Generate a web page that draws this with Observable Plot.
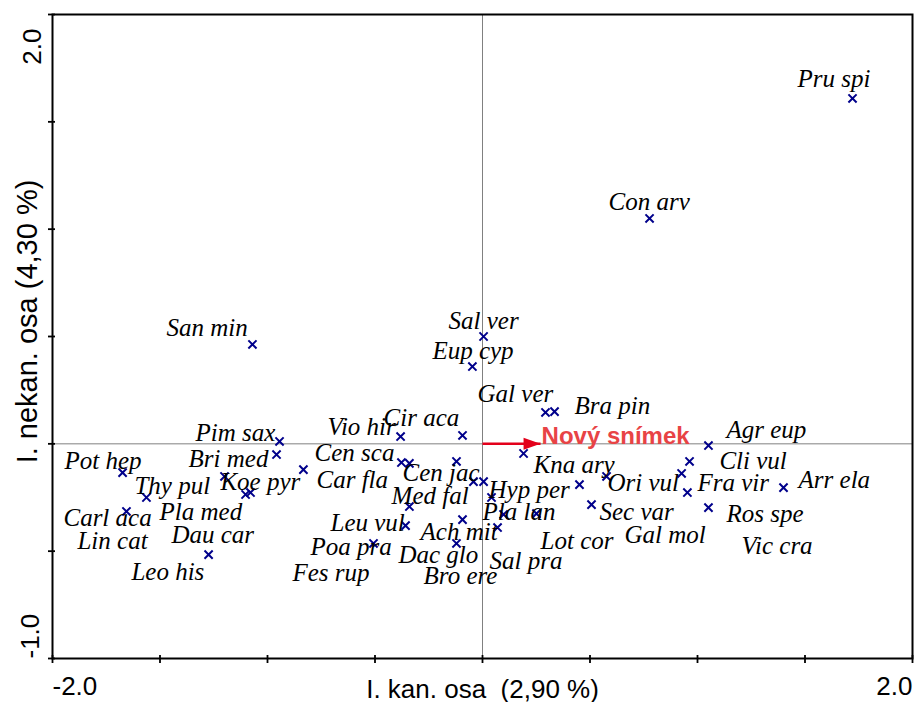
<!DOCTYPE html>
<html>
<head>
<meta charset="utf-8">
<script src="https://cdn.jsdelivr.net/npm/d3@7"></script>
<script src="https://cdn.jsdelivr.net/npm/@observablehq/plot@0.6"></script>
<style>
html, body { margin: 0; padding: 0; background: #fff; overflow: hidden; }
</style>
</head>
<body>
<div id="chart"></div>
<script>
// ---- data ----
const species = ["Pru spi","Con arv","San min","Sal ver","Eup cyp","Gal ver","Bra pin","Cir aca","Vio hir","Pim sax",
  "Bri med","Pot hep","Thy pul","Carl aca","Pla med","Koe pyr","Lin cat","Car fla","Dau car","Cen sca",
  "Fes rup","Cen jac","Leo his","Bro ere","Med fal","Leu vul","Poa pra","Ach mit","Dac glo","Hyp per",
  "Pla lan","Sal pra","Lot cor","Kna ary","Sec var","Gal mol","Ori vul","Agr eup","Cli vul","Vic cra",
  "Fra vir","Ros spe","Arr ela"];
const spX = [1.721,0.777,-1.070,0.005,-0.047,0.293,0.335,-0.093,-0.381,-0.944,
  -0.958,-1.674,-1.563,-1.656,-1.200,-1.102,-1.079,-0.833,-1.274,-0.377,
  -0.340,-0.121,-0.042,0.005,-0.340,-0.358,-0.507,-0.093,-0.121,0.042,
  0.098,0.070,0.251,0.191,0.451,0.507,0.577,1.051,0.963,0.926,
  0.953,1.051,1.400];
const spY = [1.609,1.050,0.463,0.500,0.360,0.146,0.150,0.039,0.034,0.011,
  -0.050,-0.134,-0.250,-0.315,-0.152,-0.236,-0.227,-0.120,-0.516,-0.087,
  -0.091,-0.082,-0.176,-0.176,-0.292,-0.381,-0.464,-0.353,-0.464,-0.250,
  -0.329,-0.390,-0.325,-0.045,-0.190,-0.283,-0.152,-0.008,-0.082,-0.138,
  -0.227,-0.297,-0.204];
// label anchor (left end of the text baseline), in axis units
const labelX = [1.465,0.586,-1.470,-0.158,-0.233,-0.023,0.428,-0.460,-0.721,-1.335,
  -1.367,-1.944,-1.619,-1.949,-1.502,-1.219,-1.884,-0.772,-1.447,-0.781,
  -0.884,-0.372,-1.633,-0.274,-0.423,-0.707,-0.800,-0.288,-0.391,0.028,
  0.000,0.033,0.270,0.237,0.544,0.660,0.581,1.135,1.102,1.205,
  1.000,1.135,1.470];
const labelY = [1.660,1.091,0.504,0.537,0.397,0.197,0.141,0.081,0.039,0.011,
  -0.110,-0.115,-0.236,-0.385,-0.353,-0.213,-0.492,-0.208,-0.464,-0.078,
  -0.637,-0.171,-0.632,-0.651,-0.278,-0.404,-0.520,-0.446,-0.553,-0.250,
  -0.357,-0.581,-0.488,-0.134,-0.353,-0.464,-0.218,0.029,-0.115,-0.511,
  -0.218,-0.362,-0.204];

const arrowName = ["Nový snímek"];
const arrowX = [0.27];
const arrowY = [0];

const xTicks = [-2, -1.5, -1, -0.5, 0, 0.5, 1, 1.5, 2];
const yTicks = [-1, -0.5, 0, 0.5, 1, 1.5, 2];
const xTickLabels = [-2, 2];
const yTickLabels = [-1, 2];
const xTitle = "I. kan. osa \u00a0(2,90 %)";
const yTitle = "I. nekan. osa (4,30 %)";

// ---- tables built from the arrays ----
const points = species.map((s, i) => ({name: s, x: spX[i], y: spY[i], lx: labelX[i], ly: labelY[i]}));
const arrows = arrowName.map((n, i) => ({name: n, x: arrowX[i], y: arrowY[i]}));

// filled arrow head, tip at the origin, pointing right
const headSymbol = {
  draw(ctx) {
    ctx.moveTo(0, 0);
    ctx.lineTo(-17, -6);
    ctx.lineTo(-17, 6);
    ctx.closePath();
  }
};

const sansFont = "'Liberation Sans', Arial, sans-serif";
const serifFont = "'Liberation Serif', 'Times New Roman', serif";

const chart = Plot.plot({
  width: 914,
  height: 702,
  marginLeft: 52,
  marginRight: 2,
  marginTop: 14,
  marginBottom: 44,
  x: {domain: [-2, 2], axis: null},
  y: {domain: [-1, 2], axis: null},
  style: {background: "#fff", overflow: "visible"},
  marks: [
    Plot.ruleX([0], {stroke: "#808080", strokeWidth: 1}),
    Plot.ruleY([0], {stroke: "#808080", strokeWidth: 1}),
    Plot.frame({stroke: "#000", strokeWidth: 2}),
    Plot.axisX({ticks: xTicks, tickSize: 8, dy: -3, tickFormat: () => "", label: null, stroke: "#000", strokeWidth: 1.8}),
    Plot.axisY({ticks: yTicks, tickSize: 7, dx: 3, tickFormat: () => "", label: null, stroke: "#000", strokeWidth: 1.8}),
    // tick labels
    Plot.text(xTickLabels.slice(0, 1), {x: d => d, frameAnchor: "bottom", dy: 28, text: d => d.toFixed(1),
      textAnchor: "start", lineAnchor: "middle", fontSize: 26, fontFamily: sansFont, fill: "#000"}),
    Plot.text(xTickLabels.slice(1), {x: d => d, frameAnchor: "bottom", dy: 28, text: d => d.toFixed(1),
      textAnchor: "end", lineAnchor: "middle", fontSize: 26, fontFamily: sansFont, fill: "#000"}),
    Plot.text(yTickLabels.slice(0, 1), {y: d => d, frameAnchor: "left", dx: -22, text: d => d.toFixed(1),
      rotate: -90, textAnchor: "start", lineAnchor: "middle", fontSize: 26, fontFamily: sansFont, fill: "#000"}),
    Plot.text(yTickLabels.slice(1), {y: d => d, frameAnchor: "left", dx: -20, dy: 14, text: d => d.toFixed(1),
      rotate: -90, textAnchor: "end", lineAnchor: "middle", fontSize: 26, fontFamily: sansFont, fill: "#000"}),
    // axis titles
    Plot.text([xTitle], {frameAnchor: "bottom", dy: 31, text: d => d, textAnchor: "middle", lineAnchor: "middle",
      fontSize: 26, fontFamily: sansFont, fill: "#000"}),
    Plot.text([yTitle], {frameAnchor: "left", dx: -25, dy: -15, text: d => d, rotate: -90, textAnchor: "middle",
      lineAnchor: "middle", fontSize: 29, fontFamily: sansFont, fill: "#000"}),
    // species points
    Plot.dot(points, {x: "x", y: "y", symbol: "times", r: 3.8, stroke: "#00008b", strokeWidth: 2}),
    // species labels
    Plot.text(points, {x: "lx", y: "ly", text: "name", textAnchor: "start", lineAnchor: "bottom",
      fontSize: 25, fontFamily: serifFont, fontStyle: "italic", fill: "#000"}),
    // supplementary arrow
    Plot.link(arrows, {x1: 0, y1: 0, x2: "x", y2: "y", stroke: "#e3001b", strokeWidth: 2.5}),
    Plot.dot(arrows, {x: "x", y: "y", symbol: headSymbol, r: 5, fill: "#e3001b", stroke: "none"}),
    Plot.text(arrows, {x: "x", y: "y", text: "name", dx: 1, textAnchor: "start", lineAnchor: "bottom",
      fontSize: 24, fontWeight: "bold", fontFamily: sansFont, fill: "#e84345"})
  ]
});
document.getElementById("chart").appendChild(chart);
</script>
</body>
</html>
